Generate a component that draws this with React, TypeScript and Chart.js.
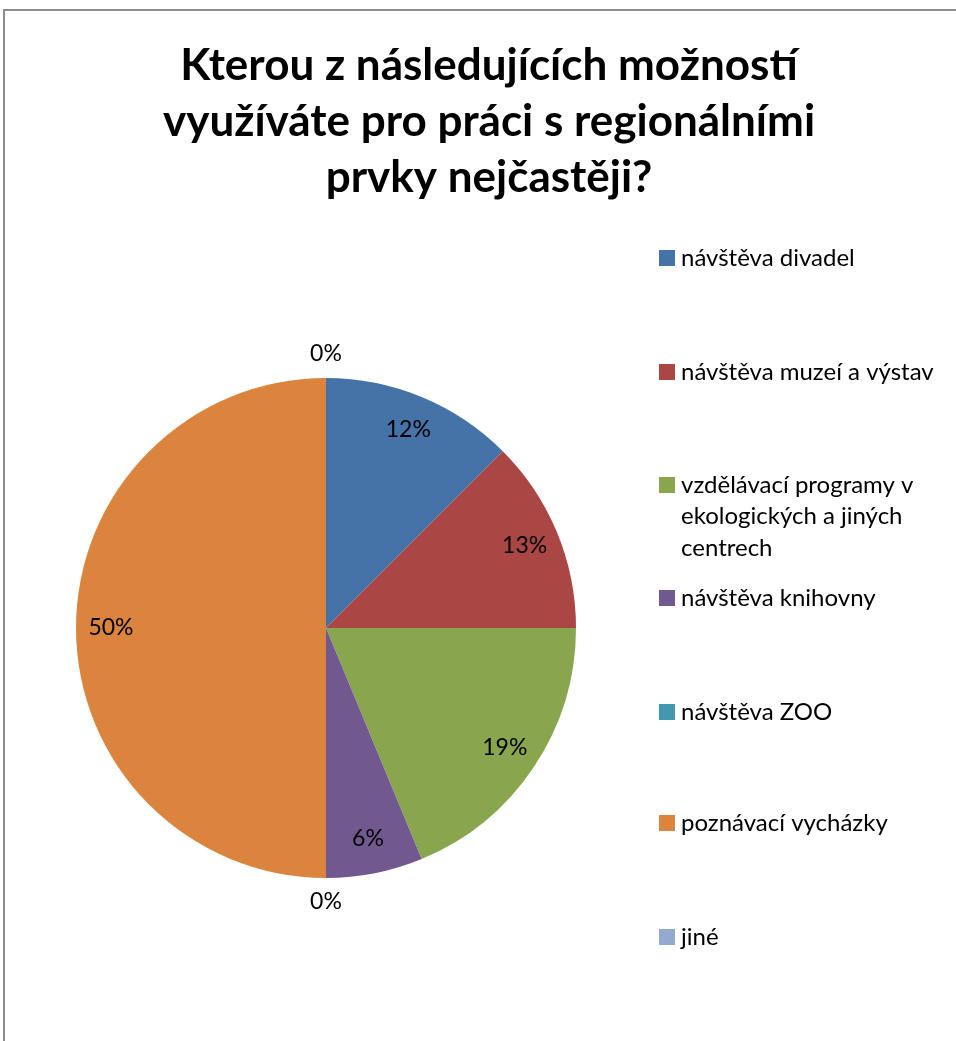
import React, { useEffect, useRef } from "react";
import { Chart, registerables } from "chart.js";

Chart.register(...registerables);

const titleLines = [
  "Kterou z následujících možností",
  "využíváte pro práci s regionálními",
  "prvky nejčastěji?",
];

const categories = [
  "návštěva divadel",
  "návštěva muzeí a výstav",
  "vzdělávací programy v ekologických a jiných centrech",
  "návštěva knihovny",
  "návštěva ZOO",
  "poznávací vycházky",
  "jiné",
];

const legendLines = [
  ["návštěva divadel"],
  ["návštěva muzeí a výstav"],
  ["vzdělávací programy v", "ekologických a jiných", "centrech"],
  ["návštěva knihovny"],
  ["návštěva ZOO"],
  ["poznávací vycházky"],
  ["jiné"],
];

const values = [2, 2, 3, 1, 0, 8, 0];
const percentLabels = ["12%", "13%", "19%", "6%", "0%", "50%", "0%"];

const colors = ["#4572A7", "#AA4643", "#89A54E", "#71588F", "#4198AF", "#DB843D", "#93A9CF"];

const FONT = "Lato, 'Open Sans', sans-serif";

const overlayPlugin = {
  id: "overlay",
  afterDraw(chart: any) {
    const ctx = chart.ctx;
    ctx.save();
    // title
    ctx.fillStyle = "#000";
    ctx.font = `bold 44px ${FONT}`;
    ctx.textAlign = "center";
    ctx.textBaseline = "middle";
    titleLines.forEach((t, i) => ctx.fillText(t, 489, 66 + i * 56));

    // data labels
    const meta = chart.getDatasetMeta(0);
    ctx.font = `23px ${FONT}`;
    ctx.fillStyle = "#000";
    meta.data.forEach((arc: any, i: number) => {
      const p = arc.getProps(["x", "y", "startAngle", "endAngle", "outerRadius"], true);
      const mid = (p.startAngle + p.endAngle) / 2;
      const d = values[i] === 0 ? p.outerRadius + 24 : p.outerRadius * 0.86;
      ctx.fillText(percentLabels[i], p.x + Math.cos(mid) * d, p.y + Math.sin(mid) * d);
    });

    // legend
    const ys = [258, 372, 485, 598, 712, 823, 937];
    ctx.textAlign = "left";
    ctx.font = `24px ${FONT}`;
    legendLines.forEach((lines, i) => {
      ctx.fillStyle = colors[i];
      ctx.fillRect(659, ys[i] - 8, 16, 16);
      ctx.fillStyle = "#000";
      lines.forEach((l, j) => ctx.fillText(l, 681, ys[i] + j * 31.5));
    });
    ctx.restore();
  },
};

export default function App() {
  const ref = useRef<HTMLCanvasElement>(null);
  useEffect(() => {
    if (!ref.current) return;
    const chart = new Chart(ref.current, {
      type: "pie",
      data: {
        labels: categories,
        datasets: [
          {
            data: values,
            backgroundColor: colors,
            borderWidth: 0,
          },
        ],
      },
      options: {
        animation: false,
        responsive: false,
        radius: 250,
        layout: { padding: { left: 76, right: 380, top: 378, bottom: 163 } },
        plugins: {
          legend: { display: false },
          title: { display: false },
          tooltip: { enabled: false },
        },
      } as any,
      plugins: [overlayPlugin],
    });
    return () => chart.destroy();
  }, []);
  return (
    <div style={{ position: "fixed", left: 0, top: 0, width: 956, height: 1041, background: "#fff" }}>
      <div
        style={{
          position: "absolute",
          left: 3,
          top: 9,
          width: 960,
          height: 1040,
          borderLeft: "2px solid #8c8c8c",
          borderTop: "2px solid #8c8c8c",
        }}
      />
      <canvas ref={ref} width={956} height={1041} style={{ position: "absolute", left: 0, top: 0 }} />
    </div>
  );
}
